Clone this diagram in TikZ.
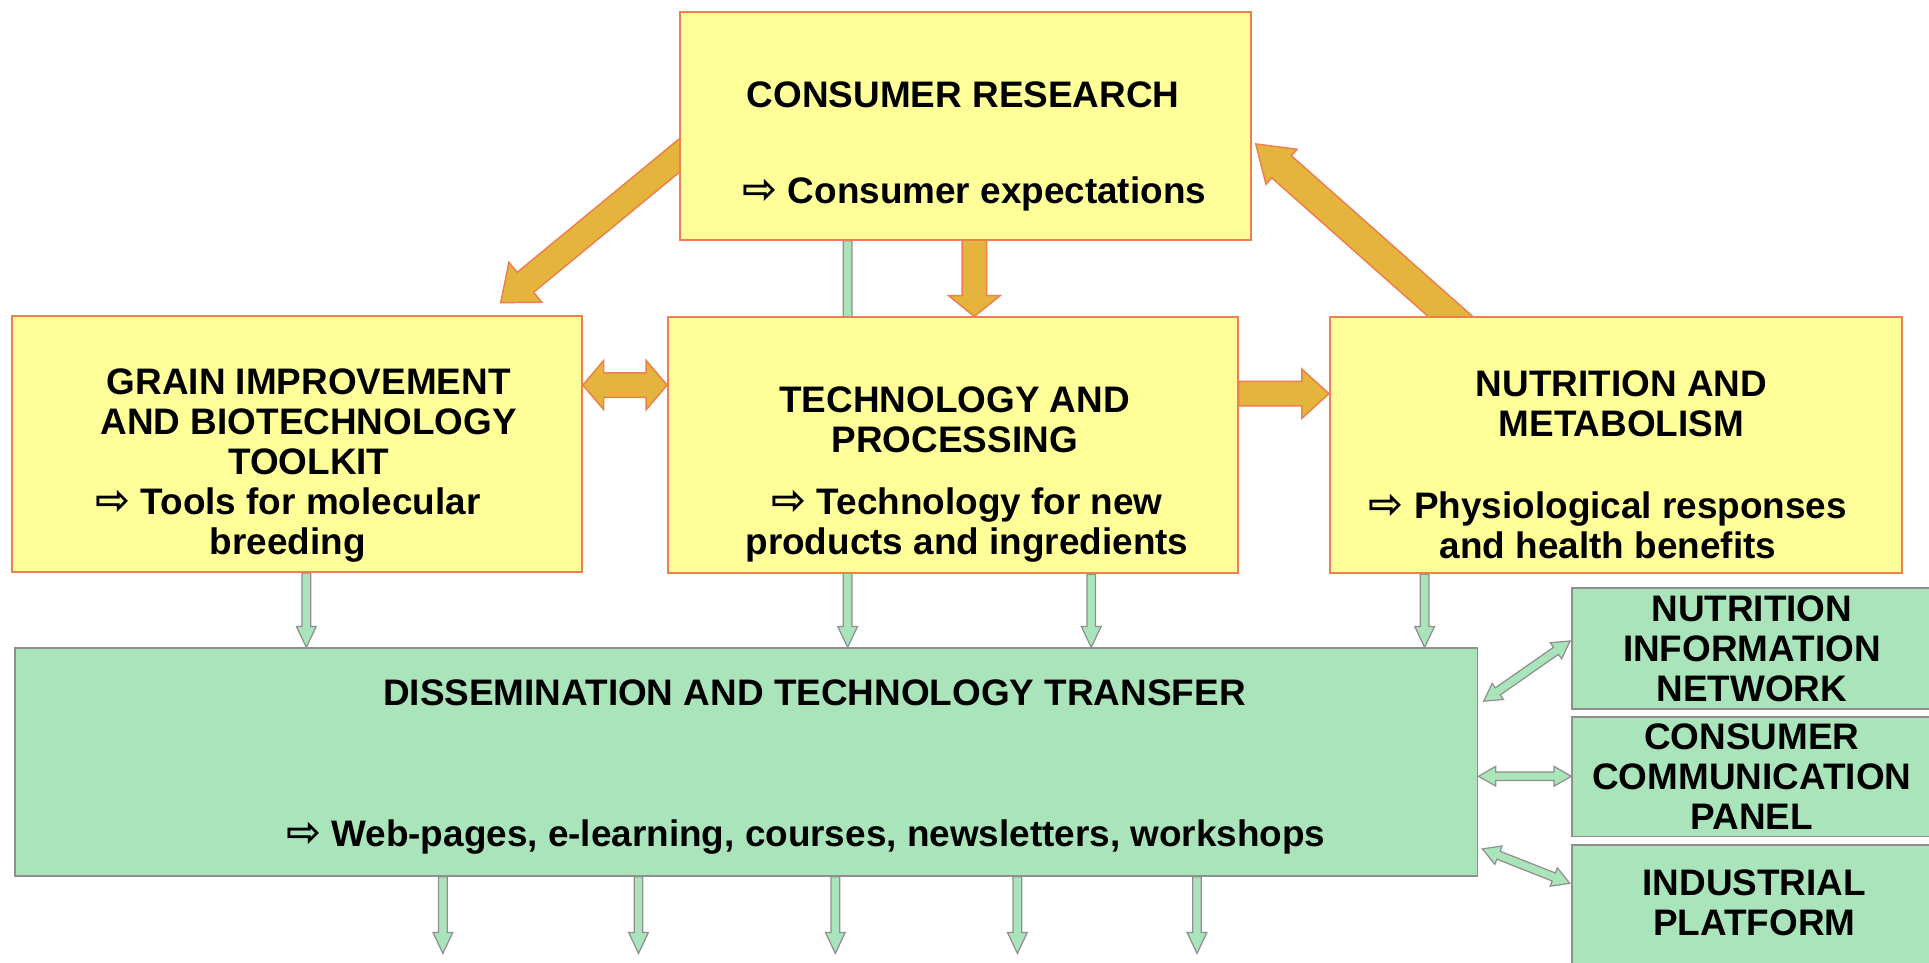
\documentclass[tikz,border=0pt]{standalone}
\usepackage{fontspec}
\setmainfont{Liberation Sans}
\newfontfamily\arrowfont{DejaVu Sans}
\usetikzlibrary{calc}
\pgfdeclarelayer{bg}
\pgfsetlayers{bg,main}

\definecolor{boxyellow}{HTML}{FFFF99}
\definecolor{boxorange}{HTML}{EE7F4E}
\definecolor{arrowgold}{HTML}{E5B43C}
\definecolor{boxgreen}{HTML}{AAE4BB}
\definecolor{boxgray}{HTML}{8F8F8F}

\newcommand{\ra}{{\arrowfont\bfseries\fontsize{34}{30}\selectfont ⇨}\ }

% #1 style, #2 start, #3 end, #4 half shaft, #5 half head, #6 head length
\newcommand{\blockarrow}[6]{%
  \coordinate (bah) at ($(#3)!#6!(#2)$);
  \draw[#1] ($(#2)!#4!90:(#3)$) -- ($(bah)!#4!90:(#3)$) -- ($(bah)!#5!90:(#3)$) -- (#3)
    -- ($(bah)!#5!-90:(#3)$) -- ($(bah)!#4!-90:(#3)$) -- ($(#2)!#4!-90:(#3)$) -- cycle;}
\newcommand{\dblockarrow}[6]{%
  \coordinate (bah) at ($(#3)!#6!(#2)$);
  \coordinate (bat) at ($(#2)!#6!(#3)$);
  \draw[#1] (#2) -- ($(bat)!#5!90:(#3)$) -- ($(bat)!#4!90:(#3)$) -- ($(bah)!#4!90:(#3)$)
    -- ($(bah)!#5!90:(#3)$) -- (#3) -- ($(bah)!#5!-90:(#3)$) -- ($(bah)!#4!-90:(#3)$)
    -- ($(bat)!#4!-90:(#3)$) -- ($(bat)!#5!-90:(#3)$) -- cycle;}

\begin{document}
\begin{tikzpicture}[x=1pt,y=-1pt,
  ybox/.style={draw=boxorange, fill=boxyellow, line width=1.5pt, inner sep=0},
  gbox/.style={draw=boxgray, fill=boxgreen, line width=1.5pt, inner sep=0},
  txt/.style={font=\bfseries\fontsize{30}{32.5}\selectfont, align=center, inner sep=0},
  goldarrow/.style={fill=arrowgold, draw=boxorange, line width=1.2pt, line join=miter},
  greenarrow/.style={fill=boxgreen, draw=boxgray, line width=1pt, line join=miter}]
\useasboundingbox (0,0) rectangle (1568,782);

% boxes
\node[ybox, minimum width=464, minimum height=185] (cr) at (785,102.5) {};
\node[ybox, minimum width=463, minimum height=208] (grain) at (241.5,361) {};
\node[ybox, minimum width=463, minimum height=208] (tech) at (774.5,362) {};
\node[ybox, minimum width=465, minimum height=208] (nut) at (1313.5,362) {};
\node[gbox, minimum width=1189, minimum height=185] (dis) at (606.5,619.5) {};
\node[gbox, txt, minimum width=292, minimum height=98] (nin) at (1424,527) {NUTRITION\\INFORMATION\\NETWORK};
\node[gbox, txt, minimum width=292, minimum height=97] (ccp) at (1424,631.5) {CONSUMER\\COMMUNICATION\\PANEL};
\node[gbox, minimum width=292, minimum height=97] (ip) at (1424,735.5) {};
\node[txt] (ipt) at (1426,734) {INDUSTRIAL\\PLATFORM};

% texts
\node[txt] (cr1) at (783,77) {CONSUMER RESEARCH};
\node[txt] (cr2) at (792,158) {\ra Consumer expectations};
\node[txt] (g1) at (251,343) {GRAIN IMPROVEMENT\\AND BIOTECHNOLOGY\\TOOLKIT};
\node[txt] (g2) at (234,427) {\ra Tools for molecular\\breeding};
\node[txt] (t1) at (776,341) {TECHNOLOGY AND\\PROCESSING};
\node[txt] (t2) at (786,427) {\ra Technology for new\\products and ingredients};
\node[txt] (n1) at (1318,328) {NUTRITION AND\\METABOLISM};
\node[txt] (n2) at (1307,427) {\ra Physiological responses\\and health benefits};
\node[txt] (d1) at (662,563) {DISSEMINATION AND TECHNOLOGY TRANSFER};
\node[txt] (d2) at (655,680) {\ra Web-pages, e-learning, courses, newsletters, workshops};

\begin{pgfonlayer}{bg}
  \fill[white] (0,0) rectangle (1568,782);
  % gold block arrows
  \coordinate (aS) at ($(cr.west)+(15,11.5)$);
  \coordinate (aE) at (407,246);
  \blockarrow{goldarrow}{aS}{aE}{10.5pt}{21pt}{26pt}
  \coordinate (bS) at ($(nut.north west)+(110,10)$);
  \coordinate (bE) at ($(cr.east)+(3,14.5)$);
  \blockarrow{goldarrow}{bS}{bE}{12pt}{19pt}{28pt}
  \coordinate (cS) at ($(cr.south)+(7,-10)$);
  \coordinate (cE) at (792,0 |- tech.north);
  \blockarrow{goldarrow}{cS}{cE}{10pt}{21pt}{17pt}
  \coordinate (dS) at (0,313 -| grain.east);
  \coordinate (dE) at (0,313 -| tech.west);
  \dblockarrow{goldarrow}{dS}{dE}{10pt}{20pt}{17pt}
  \coordinate (eS) at (0,320 -| tech.east);
  \coordinate (eE) at (0,320 -| nut.west);
  \blockarrow{goldarrow}{eS}{eE}{10pt}{20pt}{22pt}

  % green arrows into dissemination
  \coordinate (g1S) at (249,0 |- grain.south);
  \coordinate (g1E) at (249,0 |- dis.north);
  \blockarrow{greenarrow}{g1S}{g1E}{3.5pt}{8pt}{17pt}
  \coordinate (g2S) at (689,0 |- cr.south);
  \coordinate (g2E) at (689,0 |- dis.north);
  \blockarrow{greenarrow}{g2S}{g2E}{3.5pt}{8pt}{17pt}
  \coordinate (g3S) at (887,0 |- tech.south);
  \coordinate (g3E) at (887,0 |- dis.north);
  \blockarrow{greenarrow}{g3S}{g3E}{3.5pt}{8pt}{17pt}
  \coordinate (g4S) at (1158,0 |- nut.south);
  \coordinate (g4E) at (1158,0 |- dis.north);
  \blockarrow{greenarrow}{g4S}{g4E}{3.5pt}{8pt}{17pt}

  % green arrows out of dissemination
  \foreach \xx [count=\i] in {360,519,679,827,973}{
    \coordinate (o\i S) at (\xx,0 |- dis.south);
    \coordinate (o\i E) at (\xx,775);
    \blockarrow{greenarrow}{o\i S}{o\i E}{3.5pt}{8pt}{17pt}
  }

  % double arrows to right boxes
  \coordinate (r1S) at (1206,570);
  \coordinate (r1E) at ($(nin.west)+(-1,-6)$);
  \dblockarrow{greenarrow}{r1S}{r1E}{3.5pt}{8pt}{14pt}
  \coordinate (r2S) at (0,631 -| dis.east);
  \coordinate (r2E) at (0,631 -| ccp.west);
  \dblockarrow{greenarrow}{r2S}{r2E}{3.5pt}{8pt}{14pt}
  \coordinate (r3S) at (1205,690);
  \coordinate (r3E) at (1276,718);
  \dblockarrow{greenarrow}{r3S}{r3E}{3.5pt}{8pt}{14pt}
\end{pgfonlayer}
\end{tikzpicture}
\end{document}
